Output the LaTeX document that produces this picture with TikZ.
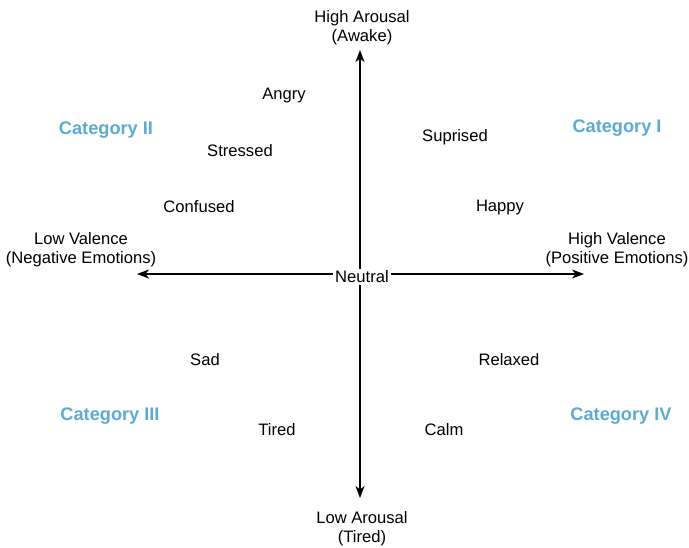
\documentclass[tikz,border=0pt]{standalone}
\usepackage{fontspec}
\setmainfont{Liberation Sans}
\usetikzlibrary{arrows.meta}
\definecolor{catblue}{RGB}{92,170,214}
\begin{document}
\begin{tikzpicture}[x=1pt,y=-1pt,
  lbl/.style={font=\fontsize{16.6}{19}\selectfont, align=center, inner sep=1pt},
  cat/.style={font=\fontsize{18.2}{20}\selectfont\bfseries, text=catblue, inner sep=1pt},
  axis/.style={line width=1.2pt, -{Stealth[length=12pt,width=9pt,inset=3.5pt]}}]
\useasboundingbox[fill=white] (0,0) rectangle (689,547);
\node[lbl] (top) at (362,27.5) {High Arousal\\(Awake)};
\node[lbl] (bot) at (362,528.5) {Low Arousal\\(Tired)};
\node[lbl] (left) at (81,249.5) {Low Valence\\(Negative Emotions)};
\node[lbl] (right) at (617,249.5) {High Valence\\(Positive Emotions)};
\coordinate (c) at (360,274);
\coordinate (tn) at (360,50);
\coordinate (bs) at (360,498);
\coordinate (lw) at (137,274);
\coordinate (re) at (584,274);
\draw[axis] (c) -- (tn);
\draw[axis] (c) -- (bs);
\draw[axis] (c) -- (lw);
\draw[axis] (c) -- (re);
\node[lbl, fill=white, inner sep=2pt] (neutral) at (362,277) {Neutral};
\node[lbl] (angry) at (284,96) {Angry};
\node[lbl] (stressed) at (240,151) {Stressed};
\node[lbl] (confused) at (199,207) {Confused};
\node[lbl] (surprised) at (455,137) {Suprised};
\node[lbl] (happy) at (500,208) {Happy};
\node[lbl] (sad) at (205,360) {Sad};
\node[lbl] (tired) at (277,430) {Tired};
\node[lbl] (relaxed) at (509,360) {Relaxed};
\node[lbl] (calm) at (444,430) {Calm};
\node[cat] (c2) at (106,130) {Category II};
\node[cat] (c1) at (617,128) {Category I};
\node[cat] (c3) at (110,416) {Category III};
\node[cat] (c4) at (621,416) {Category IV};
\end{tikzpicture}
\end{document}
